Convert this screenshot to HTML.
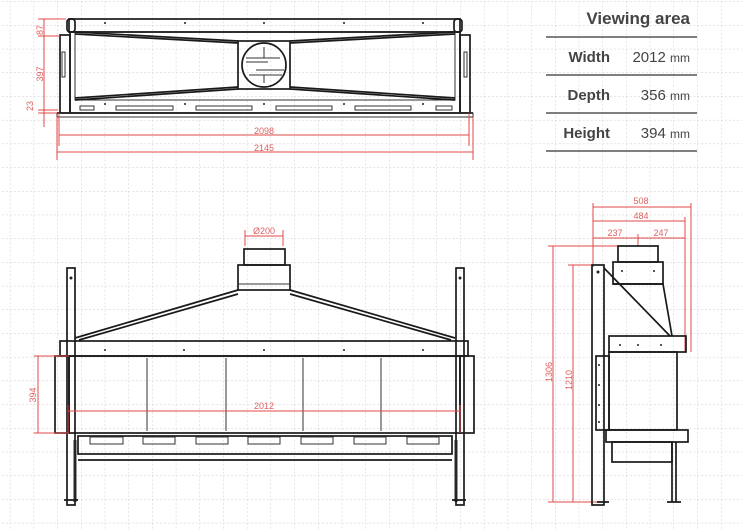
<!DOCTYPE html>
<html><head><meta charset="utf-8"><style>
html,body{margin:0;padding:0;background:#fff;}
svg{display:block;}
.k{fill:none;stroke:#1a1a1a;stroke-width:1.7}
.t{fill:none;stroke:#333;stroke-width:1}
.r{fill:none;stroke:#e04848;stroke-width:1}
.rt{fill:#e06060;font-family:"Liberation Sans",sans-serif;font-size:9px}
.tb{font-family:"Liberation Sans",sans-serif;fill:#444}
.d{fill:#222}
</style></head><body>
<svg width="742" height="529" viewBox="0 0 742 529" xmlns="http://www.w3.org/2000/svg">
<defs>
<pattern id="g" x="9.9" y="1.4" width="23.7" height="23.7" patternUnits="userSpaceOnUse">
<path d="M0 0V23.7M0 0H23.7" fill="none" stroke="#c8c8c8" stroke-width="0.9" stroke-dasharray="2 2"/>
</pattern>
</defs>
<rect width="742" height="529" fill="url(#g)"/>

<!-- TABLE -->
<text class="tb" x="690" y="24" text-anchor="end" font-size="17" font-weight="bold">Viewing area</text>
<line x1="546" y1="37" x2="697" y2="37" stroke="#555" stroke-width="1.5"/>
<line x1="546" y1="75" x2="697" y2="75" stroke="#555" stroke-width="1.5"/>
<line x1="546" y1="113" x2="697" y2="113" stroke="#555" stroke-width="1.5"/>
<line x1="546" y1="151" x2="697" y2="151" stroke="#555" stroke-width="1.5"/>
<text class="tb" x="610" y="62" text-anchor="end" font-size="15" font-weight="bold">Width</text>
<text class="tb" x="690" y="62" text-anchor="end" font-size="15">2012 <tspan font-size="12">mm</tspan></text>
<text class="tb" x="610" y="100" text-anchor="end" font-size="15" font-weight="bold">Depth</text>
<text class="tb" x="690" y="100" text-anchor="end" font-size="15">356 <tspan font-size="12">mm</tspan></text>
<text class="tb" x="610" y="138" text-anchor="end" font-size="15" font-weight="bold">Height</text>
<text class="tb" x="690" y="138" text-anchor="end" font-size="15">394 <tspan font-size="12">mm</tspan></text>

<!-- TOP VIEW -->
<rect class="k" x="69" y="19" width="391" height="13"/>
<rect class="k" x="67" y="19" width="8" height="13" rx="3"/>
<rect class="k" x="454" y="19" width="8" height="13" rx="3"/>
<rect class="k" x="60" y="35" width="10" height="78"/>
<rect class="k" x="460" y="35" width="10" height="78"/>
<rect class="t" x="62" y="52" width="3" height="25"/>
<rect class="t" x="464" y="52" width="3" height="25"/>
<rect class="k" x="70" y="32" width="390" height="81"/>
<rect class="t" x="75" y="32" width="380" height="68"/>
<path class="k" d="M75 32 L238 41 M290 41 L455 32 M75 100 L238 89 M290 89 L455 100 M75 34 L238 43 M290 43 L455 34 M75 98 L238 87 M290 87 L455 98" stroke-width="1.2"/>
<rect class="k" x="238" y="41" width="52" height="48"/>
<circle class="k" cx="264" cy="65" r="22"/>
<path class="t" d="M246 58H280 M246 62H268 M256 70H284 M249 75H282 M264 47V58 M264 75V83"/>
<path class="t" d="M80 106H94V110H80Z M116 106H173V110H116Z M196 106H252V110H196Z M276 106H332V110H276Z M355 106H411V110H355Z M436 106H452V110H436Z"/>
<line class="k" x1="57" y1="113" x2="473" y2="113"/>
<rect class="t" x="57" y="113" width="416" height="4"/>
<g class="d"><circle cx="105" cy="23" r="1"/><circle cx="185" cy="23" r="1"/><circle cx="264" cy="23" r="1"/><circle cx="344" cy="23" r="1"/><circle cx="423" cy="23" r="1"/>
<circle cx="105" cy="104" r="1"/><circle cx="185" cy="104" r="1"/><circle cx="264" cy="104" r="1"/><circle cx="344" cy="104" r="1"/><circle cx="423" cy="104" r="1"/></g>
<!-- top dims -->
<path class="r" d="M44 19V127 M38 19H66 M38 36H60 M38 110H58 M38 113H57 M59 113V146 M469 113V146 M57 117V160 M473 117V160 M59 135H469 M57 152H473"/>
<text class="rt" transform="translate(43,30) rotate(-90)" text-anchor="middle">87</text>
<text class="rt" transform="translate(43,74) rotate(-90)" text-anchor="middle">397</text>
<text class="rt" transform="translate(33,106) rotate(-90)" text-anchor="middle" font-size="8">23</text>
<text class="rt" x="264" y="134" text-anchor="middle">2098</text>
<text class="rt" x="264" y="151" text-anchor="middle">2145</text>

<!-- FRONT VIEW -->
<path class="r" d="M245 230V246 M283 230V246 M245 236H283"/>
<text class="rt" x="264" y="234" text-anchor="middle">Ø200</text>
<rect class="k" x="244" y="249" width="41" height="16"/>
<rect class="k" x="238" y="265" width="52" height="25"/>
<line class="t" x1="238" y1="284" x2="290" y2="284"/>
<path class="k" d="M75 338 L238 290 M79 340 L238 294 M290 290 L455 338 M290 294 L451 340" stroke-width="2"/>
<rect class="k" x="67" y="268" width="8" height="237"/>
<rect class="k" x="456" y="268" width="8" height="237"/>
<rect class="k" x="60" y="341" width="408" height="15"/>
<rect class="k" x="55" y="356" width="14" height="77"/>
<rect class="k" x="460" y="356" width="14" height="77"/>
<rect class="k" x="69" y="356" width="391" height="77"/>
<path class="t" d="M147 358V431 M226 358V431 M303 358V431 M381 358V431" stroke-width="1.4"/>
<rect class="k" x="78" y="436" width="374" height="18"/>
<line class="k" x1="78" y1="460" x2="452" y2="460"/>
<path class="t" d="M90 437H123V444H90Z M143 437H175V444H143Z M196 437H228V444H196Z M248 437H280V444H248Z M301 437H333V444H301Z M354 437H386V444H354Z M407 437H439V444H407Z"/>
<path class="t" d="M74 440V502 M76 440V502 M455 440V502 M457 440V502"/>
<path class="k" d="M64 500H78 M452 500H466"/>
<g class="d"><circle cx="105" cy="350" r="1"/><circle cx="184" cy="350" r="1"/><circle cx="264" cy="350" r="1"/><circle cx="344" cy="350" r="1"/><circle cx="423" cy="350" r="1"/>
<circle cx="71" cy="278" r="1.5"/><circle cx="460" cy="278" r="1.5"/></g>
<path class="r" d="M38 356V433 M34 356H69 M34 433H69 M68 411H460 M68 405V433 M460 405V433"/>
<text class="rt" transform="translate(36,395) rotate(-90)" text-anchor="middle">394</text>
<text class="rt" x="264" y="409" text-anchor="middle">2012</text>

<!-- SIDE VIEW -->
<path class="r" d="M593 203V267 M691 203V352 M685 217V352 M593 207H691 M593 221H685 M593 238H685 M638 234V246 M548 246H638 M568 265H593 M553 246V502 M573 265V502 M548 502H598"/>
<text class="rt" x="641" y="204" text-anchor="middle">508</text>
<text class="rt" x="641" y="219" text-anchor="middle">484</text>
<text class="rt" x="615" y="236" text-anchor="middle">237</text>
<text class="rt" x="661" y="236" text-anchor="middle">247</text>
<text class="rt" transform="translate(552,372) rotate(-90)" text-anchor="middle">1306</text>
<text class="rt" transform="translate(572,380) rotate(-90)" text-anchor="middle">1210</text>
<rect class="k" x="618" y="246" width="40" height="16"/>
<rect class="k" x="613" y="262" width="50" height="22"/>
<path class="k" d="M613 284 L663 284 L672 336 M604 268 L670 336"/>
<rect class="k" x="592" y="265" width="12" height="240"/>
<rect class="k" x="609" y="336" width="77" height="16"/>
<rect class="k" x="609" y="352" width="68" height="78"/>
<rect class="k" x="596" y="356" width="13" height="74"/>
<rect class="k" x="606" y="430" width="82" height="12"/>
<rect class="k" x="612" y="442" width="60" height="20"/>
<path class="k" d="M672 442V502 M676 442V502 M667 502H681 M597 502H609"/>
<g class="d"><circle cx="598" cy="272" r="1.5"/><circle cx="599" cy="365" r="1"/><circle cx="599" cy="385" r="1"/><circle cx="599" cy="405" r="1"/><circle cx="599" cy="422" r="1"/>
<circle cx="622" cy="271" r="1"/><circle cx="654" cy="271" r="1"/><circle cx="638" cy="345" r="1"/><circle cx="620" cy="345" r="1"/><circle cx="661" cy="345" r="1"/></g>
</svg>
</body></html>
